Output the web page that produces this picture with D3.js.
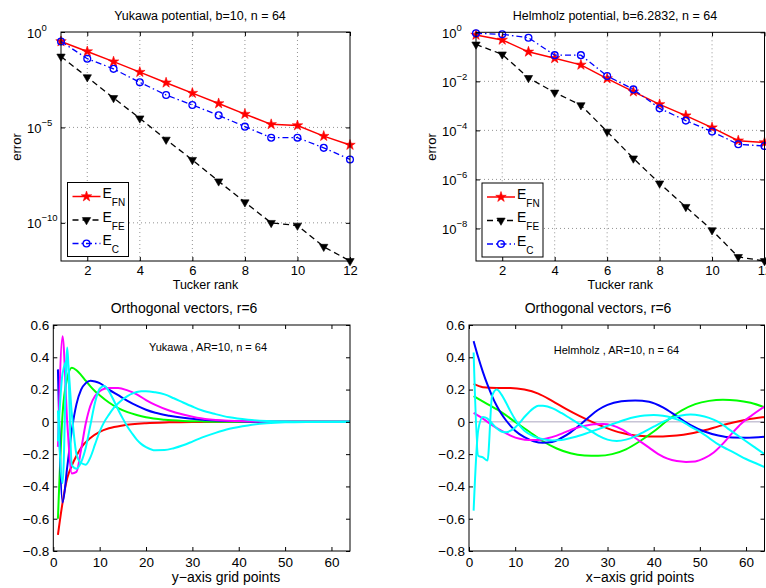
<!DOCTYPE html>
<html lang="en">
<head>
<meta charset="UTF-8">
<title>Tucker rank errors and orthogonal vectors</title>
<script src="https://d3js.org/d3.v7.min.js"></script>
<style>
    body {
        margin: 0;
        background: #fff;
    }

    svg {
        display: block;
        font-family: Arial, "Liberation Sans", Helvetica, sans-serif;
    }
</style>
</head>
<body>
<svg id="fig" width="766" height="588"></svg>
<script>

    // ---- top panels: error vs Tucker rank ----
    let ranks = [1, 2, 3, 4, 5, 6, 7, 8, 9, 10, 11, 12]
    let rankTicks = [2, 4, 6, 8, 10, 12]

    let yukawaFN = [0.32, 0.095, 0.028, 7.9e-3, 2.2e-3, 6.3e-4, 1.8e-4, 5.0e-5, 1.45e-5, 1.26e-5, 3.5e-6, 1.2e-6]
    let yukawaFE = [5.2e-2, 4.3e-3, 3.5e-4, 3.0e-5, 2.3e-6, 2.0e-7, 1.5e-8, 1.2e-9, 1.0e-10, 7.2e-11, 5.6e-12, 1.0e-12]
    let yukawaC = [0.32, 0.040, 0.0117, 2.3e-3, 5.0e-4, 1.5e-4, 4.3e-5, 1.1e-5, 2.9e-6, 2.9e-6, 8.5e-7, 2.1e-7]
    let yukawaExp = [0, -5, -10]

    let helmFN = [0.78, 0.49, 0.16, 0.087, 0.047, 0.013, 3.8e-3, 1.15e-3, 4.0e-4, 1.3e-4, 3.8e-5, 3.2e-5]
    let helmFE = [0.32, 0.126, 0.0138, 3.5e-3, 1.07e-3, 8.9e-5, 7.2e-6, 6.9e-7, 7.6e-8, 8.5e-9, 6.9e-10, 4.7e-10]
    let helmC = [0.91, 0.83, 0.60, 0.117, 0.117, 0.0166, 4.7e-3, 7.9e-4, 2.5e-4, 8.9e-5, 2.7e-5, 2.3e-5]
    let helmExp = [0, -2, -4, -6, -8]

    // ---- bottom panels: orthogonal vectors, [grid point, value] ----
    let gridTicks = [0, 10, 20, 30, 40, 50, 60]
    let vecTicks = [-0.8, -0.6, -0.4, -0.2, 0, 0.2, 0.4, 0.6]
    let vecColors = ["#ff0000", "#00ff00", "#0000ff", "#ff00ff", "#00ffff", "#00ffff"]

    let yukRed = [[1, -0.70], [2, -0.50], [3, -0.35], [4, -0.27], [5, -0.21], [6, -0.16], [8, -0.10], [10, -0.062], [12, -0.04], [15, -0.022], [20, -0.008], [25, -0.003], [30, -0.001], [40, 0], [64, 0]]
    let yukGreen = [[1, -0.60], [2, 0.05], [3, 0.27], [4, 0.335], [5, 0.32], [6, 0.29], [7, 0.255], [8, 0.22], [9, 0.19], [10, 0.165], [12, 0.12], [14, 0.085], [16, 0.06], [18, 0.042], [20, 0.028], [24, 0.013], [28, 0.006], [32, 0.003], [36, 0.001], [45, 0], [64, 0]]
    let yukBlue = [[1, 0.325], [2, -0.50], [3, -0.28], [4, -0.05], [5, 0.11], [6, 0.20], [7, 0.24], [8, 0.255], [9, 0.25], [10, 0.24], [12, 0.20], [14, 0.165], [16, 0.13], [18, 0.10], [20, 0.075], [22, 0.056], [25, 0.038], [28, 0.025], [31, 0.016], [35, 0.008], [40, 0.003], [45, 0.001], [50, 0], [64, 0]]
    let yukMagenta = [[1, -0.155], [2, 0.53], [3, 0.0], [4, -0.32], [5, -0.31], [6, -0.17], [7, -0.01], [8, 0.10], [9, 0.16], [10, 0.19], [11, 0.205], [12, 0.21], [14, 0.21], [16, 0.195], [18, 0.17], [20, 0.135], [22, 0.105], [25, 0.07], [28, 0.045], [31, 0.026], [35, 0.012], [40, 0.005], [45, 0.002], [50, 0], [64, 0]]
    let yukCyanA = [[1, 0.07], [2, -0.38], [3, 0.46], [4, -0.27], [5, -0.29], [6, -0.25], [7, -0.16], [8, -0.02], [9, 0.12], [10, 0.205], [11, 0.222], [12, 0.19], [13, 0.135], [14, 0.075], [15, 0.02], [16, -0.03], [17, -0.072], [18, -0.11], [19, -0.138], [20, -0.156], [22, -0.176], [24, -0.175], [26, -0.163], [28, -0.145], [30, -0.122], [32, -0.098], [35, -0.068], [38, -0.043], [42, -0.022], [46, -0.009], [50, -0.003], [55, -0.001], [64, 0]]
    let yukCyanB = [[1, -0.12], [2, 0.30], [3, 0.38], [4, 0.05], [5, -0.20], [6, -0.255], [7, -0.265], [8, -0.22], [9, -0.14], [10, -0.06], [11, 0.0], [12, 0.045], [13, 0.085], [14, 0.115], [15, 0.14], [16, 0.16], [17, 0.175], [18, 0.185], [19, 0.19], [20, 0.19], [22, 0.183], [24, 0.17], [26, 0.146], [28, 0.12], [30, 0.095], [32, 0.072], [35, 0.048], [38, 0.028], [42, 0.013], [46, 0.005], [50, 0.002], [55, 0], [64, 0]]

    let helRed = [[1, 0.235], [3, 0.215], [6, 0.21], [9, 0.21], [12, 0.2], [15, 0.175], [18, 0.13], [21, 0.08], [24, 0.035], [27, -0.005], [30, -0.04], [33, -0.068], [36, -0.085], [39, -0.09], [42, -0.09], [45, -0.085], [48, -0.072], [51, -0.052], [54, -0.028], [57, -0.005], [60, 0.013], [64, 0.03]]
    let helGreen = [[1, 0.16], [4, 0.11], [7, 0.06], [10, 0.0], [13, -0.06], [16, -0.12], [19, -0.165], [22, -0.195], [25, -0.208], [28, -0.21], [31, -0.2], [34, -0.17], [37, -0.12], [40, -0.06], [43, 0.01], [46, 0.07], [49, 0.11], [52, 0.13], [55, 0.137], [58, 0.133], [61, 0.118], [64, 0.09]]
    let helBlue = [[1, 0.5], [2, 0.4], [3, 0.31], [4, 0.23], [5, 0.16], [6, 0.1], [7, 0.05], [8, 0.01], [9, -0.025], [10, -0.055], [12, -0.095], [14, -0.12], [16, -0.13], [18, -0.125], [20, -0.1], [22, -0.065], [24, -0.02], [26, 0.03], [28, 0.075], [30, 0.105], [33, 0.127], [36, 0.133], [39, 0.125], [42, 0.09], [45, 0.035], [48, -0.02], [51, -0.06], [54, -0.085], [57, -0.097], [60, -0.098], [64, -0.092]]
    let helMagenta = [[1, 0.055], [3, 0.02], [5, -0.02], [7, -0.055], [9, -0.085], [11, -0.105], [13, -0.113], [15, -0.112], [17, -0.102], [19, -0.085], [21, -0.062], [23, -0.04], [25, -0.025], [27, -0.015], [29, -0.013], [31, -0.022], [33, -0.045], [35, -0.08], [37, -0.12], [39, -0.16], [41, -0.2], [43, -0.228], [45, -0.243], [47, -0.248], [49, -0.245], [51, -0.225], [53, -0.19], [55, -0.135], [57, -0.07], [59, -0.01], [61, 0.035], [64, 0.095]]
    let helCyanA = [[1, 0.43], [2, -0.21], [3, -0.22], [4, -0.24], [5, 0.16], [6, 0.2], [7, 0.17], [8, 0.12], [9, 0.065], [10, 0.015], [11, -0.025], [12, -0.055], [14, -0.09], [16, -0.108], [18, -0.115], [20, -0.112], [22, -0.1], [24, -0.085], [26, -0.065], [28, -0.045], [30, -0.025], [32, -0.005], [34, 0.015], [36, 0.03], [38, 0.04], [40, 0.043], [42, 0.038], [44, 0.025], [46, 0.005], [48, -0.03], [50, -0.06], [52, -0.1], [54, -0.14], [56, -0.17], [58, -0.2], [60, -0.23], [62, -0.255], [64, -0.28]]
    let helCyanB = [[1, -0.55], [2, -0.05], [3, 0.03], [4, 0.02], [5, -0.01], [6, -0.04], [7, -0.06], [8, -0.065], [9, -0.055], [10, -0.035], [11, -0.005], [12, 0.03], [13, 0.06], [14, 0.085], [15, 0.1], [16, 0.1], [17, 0.095], [18, 0.085], [20, 0.055], [22, 0.02], [24, -0.015], [26, -0.05], [28, -0.085], [30, -0.11], [32, -0.118], [34, -0.11], [36, -0.09], [38, -0.06], [40, -0.03], [42, 0.0], [44, 0.025], [46, 0.04], [48, 0.045], [50, 0.04], [52, 0.025], [54, 0.0], [56, -0.04], [58, -0.08], [60, -0.12], [62, -0.16], [64, -0.2]]

    let svg = d3.select("#fig")
    let minus = s => String(s).replace("-", "\u2212")

    // styles of the three error curves
    let errStyles = [
        { sub: "FN", color: "#ff0000", dash: null, width: 1.5, marker: "star" },
        { sub: "FE", color: "#000000", dash: "6,4", width: 1.3, marker: "tri" },
        { sub: "C", color: "#0000ff", dash: "6,3,1.5,3", width: 1.3, marker: "circle" }
    ]

    function addMarker(sel, type, color) {
        if (type === "star") {
            sel.append("path").attr("d", d3.symbol(d3.symbolStar, 34))
                .attr("fill", color).attr("stroke", color).attr("stroke-width", 0.6)
        } else if (type === "tri") {
            sel.append("path").attr("d", d3.symbol(d3.symbolTriangle, 30))
                .attr("transform", "rotate(180)")
                .attr("fill", color).attr("stroke", color).attr("stroke-width", 0.6)
        } else {
            sel.append("circle").attr("r", 3.4)
                .attr("fill", "none").attr("stroke", color).attr("stroke-width", 1.3)
        }
    }

    function errorPanel(box, yMin, exps, title, series, legend) {
        let x = d3.scaleLinear().domain([1, 12]).range([box.left, box.right])
        let y = d3.scaleLog().domain([yMin, 1]).range([box.bottom, box.top])
        let yTicks = exps.map(e => Math.pow(10, e))
        let g = svg.append("g")

        // dotted grid
        g.selectAll(".gx").data(rankTicks.filter(t => t < 12)).join("line")
            .attr("x1", d => x(d)).attr("x2", d => x(d))
            .attr("y1", box.top).attr("y2", box.bottom)
            .attr("stroke", "#777").attr("stroke-width", 0.8).attr("stroke-dasharray", "1,3")
        g.selectAll(".gy").data(yTicks.filter(t => t < 1)).join("line")
            .attr("x1", box.left).attr("x2", box.right)
            .attr("y1", d => y(d)).attr("y2", d => y(d))
            .attr("stroke", "#777").attr("stroke-width", 0.8).attr("stroke-dasharray", "1,3")

        // curves with markers
        series.forEach((vals, i) => {
            let st = errStyles[i]
            let pts = ranks.map((r, j) => [r, vals[j]])
            g.append("path")
                .attr("d", d3.line().x(d => x(d[0])).y(d => y(d[1]))(pts))
                .attr("fill", "none").attr("stroke", st.color)
                .attr("stroke-width", st.width)
                .attr("stroke-dasharray", st.dash)
            g.selectAll(".m" + i).data(pts).join("g")
                .attr("transform", d => `translate(${x(d[0])},${y(d[1])})`)
                .call(s => addMarker(s, st.marker, st.color))
        })

        // axes, ticks pointing inwards
        let ax = [
            [d3.axisBottom(x).tickValues(rankTicks), `translate(0,${box.bottom})`],
            [d3.axisTop(x).tickValues(rankTicks).tickFormat(""), `translate(0,${box.top})`],
            [d3.axisLeft(y).tickValues(yTicks).tickFormat(""), `translate(${box.left},0)`],
            [d3.axisRight(y).tickValues(yTicks).tickFormat(""), `translate(${box.right},0)`]
        ]
        ax.forEach(a => {
            g.append("g").attr("transform", a[1])
                .call(a[0].tickSize(-4).tickSizeOuter(0).tickPadding(4.5))
                .call(s => s.select(".domain").remove())
                .call(s => s.selectAll("line").attr("stroke", "#000"))
                .attr("font-size", 13).attr("font-family", null)
        })

        // 10^e labels
        let yl = g.selectAll(".yl").data(exps).join("text")
            .attr("x", box.left - 34).attr("y", d => y(Math.pow(10, d)) + 5.5)
            .attr("font-size", 13).text("10")
        yl.append("tspan").attr("dy", -7).attr("font-size", 9.5).text(d => minus(d))

        g.append("rect")
            .attr("x", box.left).attr("y", box.top)
            .attr("width", box.right - box.left).attr("height", box.bottom - box.top)
            .attr("fill", "none").attr("stroke", "#000").attr("stroke-width", 1)

        g.append("text").attr("x", title.x).attr("y", 19.5)
            .attr("text-anchor", "middle").attr("font-size", 12.5).text(title.text)
        g.append("text").attr("x", (box.left + box.right) / 2).attr("y", 289)
            .attr("text-anchor", "middle").attr("font-size", 12.5).text("Tucker rank")
        g.append("text").attr("transform", `translate(${box.left - 40},147) rotate(-90)`)
            .attr("text-anchor", "middle").attr("font-size", 13).text("error")

        // legend
        let lg = g.append("g").attr("transform", `translate(${legend.x},${legend.y})`)
        lg.append("rect").attr("width", 61).attr("height", 74)
            .attr("fill", "#fff").attr("stroke", "#000").attr("stroke-width", 1)
        errStyles.forEach((st, i) => {
            let row = lg.append("g").attr("transform", `translate(0,${14 + i * 23.5})`)
            row.append("line").attr("x1", 5).attr("x2", 33)
                .attr("stroke", st.color).attr("stroke-width", st.width)
                .attr("stroke-dasharray", st.dash)
            row.append("g").attr("transform", "translate(19,0)")
                .call(s => addMarker(s, st.marker, st.color))
            let t = row.append("text").attr("x", 35).attr("y", 1.5).attr("font-size", 14).text("E")
            t.append("tspan").attr("dy", 8).attr("font-size", 10).text(st.sub)
        })
    }

    function vectorPanel(box, curves, title, note, xlabel) {
        let x = d3.scaleLinear().domain([0, 64]).range([box.left, box.right])
        let y = d3.scaleLinear().domain([-0.8, 0.6]).range([box.bottom, box.top])
        let g = svg.append("g")

        // zero line
        g.append("line")
            .attr("x1", x(1)).attr("x2", x(64)).attr("y1", y(0)).attr("y2", y(0))
            .attr("stroke", "#aaa6c0").attr("stroke-width", 1)

        let line = d3.line().x(d => x(d[0])).y(d => y(d[1])).curve(d3.curveMonotoneX)
        curves.forEach((c, i) => {
            g.append("path").attr("d", line(c))
                .attr("fill", "none").attr("stroke", vecColors[i])
                .attr("stroke-width", 2).attr("stroke-linejoin", "round")
        })

        let ax = [
            [d3.axisBottom(x).tickValues(gridTicks), `translate(0,${box.bottom})`],
            [d3.axisTop(x).tickValues(gridTicks).tickFormat(""), `translate(0,${box.top})`],
            [d3.axisLeft(y).tickValues(vecTicks).tickFormat(d => d === 0 ? "0" : d3.format(".1f")(d)), `translate(${box.left},0)`],
            [d3.axisRight(y).tickValues(vecTicks).tickFormat(""), `translate(${box.right},0)`]
        ]
        ax.forEach((a, i) => {
            g.append("g").attr("transform", a[1])
                .call(a[0].tickSize(-4).tickSizeOuter(0).tickPadding(i === 0 ? 6 : 4))
                .call(s => s.select(".domain").remove())
                .call(s => s.selectAll("line").attr("stroke", "#000"))
                .attr("font-size", 13.5).attr("font-family", null)
        })

        g.append("rect")
            .attr("x", box.left).attr("y", box.top)
            .attr("width", box.right - box.left).attr("height", box.bottom - box.top)
            .attr("fill", "none").attr("stroke", "#000").attr("stroke-width", 1)

        g.append("text").attr("x", title.x).attr("y", 313)
            .attr("text-anchor", "middle").attr("font-size", 14).text(title.text)
        g.append("text").attr("x", note.x).attr("y", note.y)
            .attr("text-anchor", "middle").attr("font-size", 11).text(note.text)
        g.append("text").attr("x", xlabel.x).attr("y", 582)
            .attr("text-anchor", "middle").attr("font-size", 14).text(xlabel.text)
    }

    errorPanel({ left: 61, right: 350, top: 32, bottom: 261 }, 1e-12, yukawaExp,
        { x: 200, text: "Yukawa potential, b=10, n = 64" },
        [yukawaFN, yukawaFE, yukawaC], { x: 67.5, y: 182.5 })

    errorPanel({ left: 476, right: 764.5, top: 32.3, bottom: 261 }, 4.7e-10, helmExp,
        { x: 615, text: "Helmholz potential, b=6.2832, n = 64" },
        [helmFN, helmFE, helmC], { x: 482, y: 183 })

    vectorPanel({ left: 53.3, right: 350, top: 325, bottom: 551 },
        [yukRed, yukGreen, yukBlue, yukMagenta, yukCyanA, yukCyanB],
        { x: 184, text: "Orthogonal vectors, r=6" },
        { x: 208, y: 351, text: "Yukawa , AR=10, n = 64" },
        { x: 226, text: "y\u2212axis grid points" })

    vectorPanel({ left: 469, right: 764.5, top: 325, bottom: 551 },
        [helRed, helGreen, helBlue, helMagenta, helCyanA, helCyanB],
        { x: 598, text: "Orthogonal vectors, r=6" },
        { x: 616.5, y: 354, text: "Helmholz , AR=10, n = 64" },
        { x: 640, text: "x\u2212axis grid points" })

</script>
</body>
</html>
